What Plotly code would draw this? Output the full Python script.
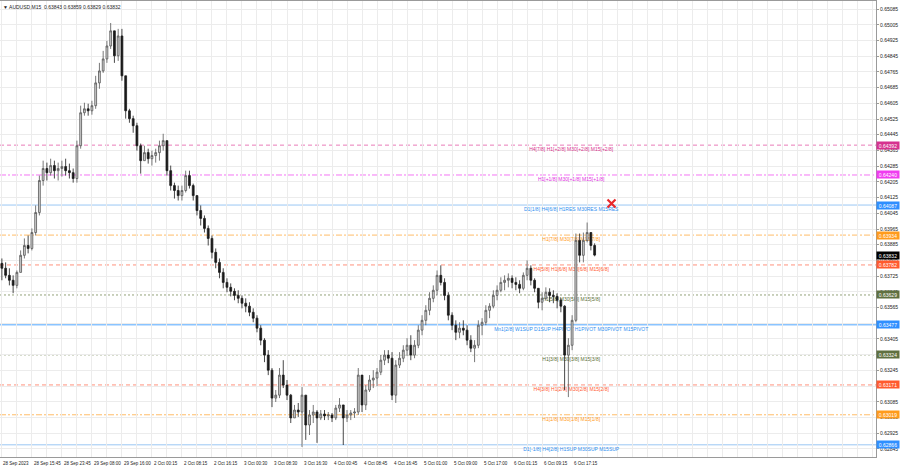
import plotly.graph_objects as go

# ---------------- data ----------------
first_open = 0.63790
closes = [0.63765, 0.63729, 0.63704, 0.63678, 0.63744, 0.63831, 0.63881, 0.63866, 0.63947, 0.64049,
          0.64212, 0.64273, 0.64252, 0.64288, 0.64262, 0.64273, 0.64283, 0.64262, 0.64252, 0.64222,
          0.64389, 0.64557, 0.64577, 0.64567, 0.64593, 0.64709, 0.64770, 0.64831, 0.64897, 0.64974,
          0.64847, 0.64948, 0.64745, 0.64567, 0.64527, 0.64491, 0.64389, 0.64313, 0.64354, 0.64323,
          0.64339, 0.64354, 0.64389, 0.64415, 0.64262, 0.64186, 0.64161, 0.64135, 0.64161, 0.64237,
          0.64186, 0.64135, 0.64059, 0.64019, 0.63968, 0.63917, 0.63846, 0.63795, 0.63744, 0.63693,
          0.63668, 0.63648, 0.63627, 0.63612, 0.63587, 0.63572, 0.63541, 0.63511, 0.63460, 0.63399,
          0.63323, 0.63246, 0.63104, 0.63119, 0.63221, 0.63170, 0.63119, 0.63003, 0.63043, 0.63033,
          0.63119, 0.62967, 0.63018, 0.63033, 0.63003, 0.63023, 0.63013, 0.63018, 0.63003, 0.63053,
          0.63069, 0.63003, 0.63018, 0.63028, 0.63033, 0.63221, 0.63069, 0.63145, 0.63196, 0.63206,
          0.63236, 0.63297, 0.63323, 0.63307, 0.63119, 0.63272, 0.63307, 0.63348, 0.63373, 0.63323,
          0.63373, 0.63450, 0.63500, 0.63551, 0.63612, 0.63653, 0.63729, 0.63693, 0.63627, 0.63526,
          0.63475, 0.63439, 0.63460, 0.63450, 0.63399, 0.63358, 0.63373, 0.63475, 0.63490, 0.63551,
          0.63572, 0.63627, 0.63653, 0.63693, 0.63704, 0.63714, 0.63693, 0.63683, 0.63663, 0.63729,
          0.63765, 0.63704, 0.63663, 0.63592, 0.63612, 0.63643, 0.63627, 0.63622, 0.63602, 0.63572,
          0.63323, 0.63373, 0.63500, 0.63907, 0.63831, 0.63907, 0.63947, 0.63881, 0.63832]
highs = [0.63815, 0.63795, 0.63765, 0.63729, 0.63754, 0.63856, 0.63917, 0.63932, 0.63968, 0.64085,
         0.64237, 0.64313, 0.64303, 0.64323, 0.64313, 0.64303, 0.64313, 0.64323, 0.64298, 0.64273,
         0.64415, 0.64593, 0.64608, 0.64603, 0.64618, 0.64745, 0.64811, 0.64872, 0.64923, 0.65014,
         0.64974, 0.64984, 0.64984, 0.64745, 0.64577, 0.64542, 0.64506, 0.64400, 0.64389, 0.64374,
         0.64364, 0.64374, 0.64415, 0.64450, 0.64415, 0.64288, 0.64201, 0.64186, 0.64186, 0.64262,
         0.64262, 0.64196, 0.64135, 0.64085, 0.64034, 0.63983, 0.63932, 0.63866, 0.63815, 0.63765,
         0.63714, 0.63688, 0.63663, 0.63653, 0.63627, 0.63612, 0.63592, 0.63561, 0.63526, 0.63475,
         0.63409, 0.63348, 0.63257, 0.63145, 0.63257, 0.63297, 0.63196, 0.63125, 0.63069, 0.63079,
         0.63160, 0.63119, 0.63043, 0.63069, 0.63043, 0.63043, 0.63043, 0.63033, 0.63028, 0.63069,
         0.63104, 0.63069, 0.63043, 0.63043, 0.63053, 0.63257, 0.63221, 0.63170, 0.63221, 0.63246,
         0.63257, 0.63323, 0.63348, 0.63348, 0.63338, 0.63297, 0.63338, 0.63373, 0.63409, 0.63424,
         0.63399, 0.63475, 0.63526, 0.63577, 0.63643, 0.63678, 0.63754, 0.63780, 0.63714, 0.63643,
         0.63541, 0.63500, 0.63490, 0.63500, 0.63475, 0.63424, 0.63399, 0.63500, 0.63511, 0.63577,
         0.63587, 0.63653, 0.63678, 0.63719, 0.63729, 0.63739, 0.63729, 0.63719, 0.63704, 0.63744,
         0.63805, 0.63780, 0.63714, 0.63663, 0.63643, 0.63668, 0.63663, 0.63653, 0.63638, 0.63612,
         0.63577, 0.63409, 0.63526, 0.63942, 0.63942, 0.63947, 0.63998, 0.63947, 0.63892]
lows = [0.63704, 0.63714, 0.63678, 0.63638, 0.63663, 0.63744, 0.63815, 0.63841, 0.63856, 0.63932,
        0.64034, 0.64186, 0.64212, 0.64237, 0.64222, 0.64212, 0.64232, 0.64237, 0.64222, 0.64201,
        0.64201, 0.64374, 0.64542, 0.64542, 0.64547, 0.64577, 0.64679, 0.64760, 0.64811, 0.64882,
        0.64811, 0.64821, 0.64720, 0.64527, 0.64506, 0.64455, 0.64364, 0.64247, 0.64313, 0.64298,
        0.64288, 0.64303, 0.64313, 0.64364, 0.64237, 0.64161, 0.64120, 0.64110, 0.64110, 0.64151,
        0.64171, 0.64110, 0.64034, 0.63983, 0.63947, 0.63881, 0.63815, 0.63765, 0.63714, 0.63663,
        0.63643, 0.63622, 0.63602, 0.63587, 0.63561, 0.63541, 0.63521, 0.63490, 0.63439, 0.63373,
        0.63287, 0.63221, 0.63058, 0.63084, 0.63104, 0.63155, 0.63094, 0.62977, 0.63003, 0.63008,
        0.62855, 0.62891, 0.62916, 0.62977, 0.62876, 0.62992, 0.62992, 0.62992, 0.62982, 0.62992,
        0.63033, 0.62865, 0.62982, 0.62992, 0.63003, 0.63018, 0.63033, 0.63043, 0.63135, 0.63155,
        0.63165, 0.63221, 0.63272, 0.63282, 0.63094, 0.63079, 0.63257, 0.63287, 0.63318, 0.63297,
        0.63307, 0.63358, 0.63424, 0.63475, 0.63526, 0.63592, 0.63627, 0.63678, 0.63602, 0.63500,
        0.63450, 0.63399, 0.63409, 0.63424, 0.63373, 0.63338, 0.63287, 0.63358, 0.63424, 0.63475,
        0.63511, 0.63561, 0.63602, 0.63643, 0.63653, 0.63668, 0.63663, 0.63653, 0.63638, 0.63653,
        0.63704, 0.63678, 0.63643, 0.63561, 0.63551, 0.63602, 0.63592, 0.63587, 0.63561, 0.63541,
        0.63145, 0.63109, 0.63348, 0.63490, 0.63795, 0.63795, 0.63897, 0.63856, 0.63826]

levels = [0.64392, 0.64240, 0.64087, 0.63934, 0.63782, 0.63629,
          0.63477, 0.63324, 0.63171, 0.63019, 0.62866]
level_text = ["H4[7/8] H1[+2/8] M30[+2/8] M15[+2/8]",
              "H1[+1/8] M30[+1/8] M15[+1/8]",
              "D1[1/8] H4[6/8] H1RES M30RES M15RES",
              "H1[7/8] M30[7/8] M15[7/8]",
              "H4[5/8] H1[6/8] M30[6/8] M15[6/8]",
              "H1[5/8] M30[5/8] M15[5/8]",
              "Mn1[2/8] W1SUP D1SUP H4PIVOT H1PIVOT M30PIVOT M15PIVOT",
              "H1[3/8] M30[3/8] M15[3/8]",
              "H4[3/8] H1[2/8] M30[2/8] M15[2/8]",
              "H1[1/8] M30[1/8] M15[1/8]",
              "D1[-1/8] H4[2/8] H1SUP M30SUP M15SUP"]
current_price = 0.63832
title_text = "▼ AUDUSD,M15  0.63843 0.63859 0.63829 0.63832"

price_ticks = [0.65085, 0.65005, 0.64925, 0.64845, 0.64765, 0.64685, 0.64605, 0.64525,
               0.64445, 0.64365, 0.64285, 0.64205, 0.64125, 0.64045, 0.63965, 0.63885,
               0.63805, 0.63725, 0.63645, 0.63565, 0.63485, 0.63405, 0.63325, 0.63245,
               0.63165, 0.63085, 0.63005, 0.62925, 0.62845]
date_labels = ["28 Sep 2023", "28 Sep 15:45", "28 Sep 23:45", "29 Sep 08:00", "29 Sep 16:00",
               "2 Oct 00:15", "2 Oct 08:15", "2 Oct 16:15", "3 Oct 00:30", "3 Oct 08:30",
               "3 Oct 16:30", "4 Oct 00:45", "4 Oct 08:45", "4 Oct 16:45", "5 Oct 01:00",
               "5 Oct 09:00", "5 Oct 17:00", "6 Oct 01:15", "6 Oct 09:15", "6 Oct 17:15"]
marker_x_bar = [652]
marker_price = [0.64095]

# ---------------- styles ----------------
line_colors = ["rgba(226,80,160,0.75)", "rgba(240,60,240,0.7)", "rgba(120,180,240,0.75)",
               "rgba(255,160,40,0.7)", "rgba(255,100,70,0.7)", "rgba(90,110,50,0.65)",
               "rgba(50,150,255,0.85)", "rgba(90,110,50,0.65)", "rgba(255,100,70,0.7)",
               "rgba(255,160,40,0.7)", "rgba(120,180,240,0.75)"]
line_dash = ["4px,3px", "6px,2px,2px,2px", "solid", "6px,2px,2px,2px", "4px,3px", "2px,2px",
             "solid", "2px,2px", "4px,3px", "6px,2px,2px,2px", "solid"]
text_colors = ["#d8348e", "#e22ee2", "#2f8ff0", "#ff9a1a", "#ff5a30", "#5b6e33",
               "#2f8ff0", "#5b6e33", "#ff5a30", "#ff9a1a", "#2f8ff0"]
tag_colors = ["#d6338f", "#f03cf0", "#2f8fff", "#ff9b1c", "#ff5a2e", "#5f7040",
              "#2f8fff", "#5f7040", "#ff5a2e", "#ff9b1c", "#2f8fff"]
FONT = "Liberation Sans"

n = len(closes)
opens = [first_open] + closes[:-1]
hi = [max(h, o, c) for h, o, c in zip(highs, opens, closes)]
lo = [min(l, o, c) for l, o, c in zip(lows, opens, closes)]
xs = [4 * k + 2 for k in range(n)]          # hourly candles on an M15 bar-index axis
date_bars = [1] + [34 + 32 * i for i in range(len(date_labels) - 1)]
label_bar = 609
x_max = 934

fig = go.Figure()
fig.add_trace(go.Candlestick(
    x=xs, open=opens, high=hi, low=lo, close=closes,
    increasing=dict(line=dict(color="#555555", width=0.8), fillcolor="#d4d4d4"),
    decreasing=dict(line=dict(color="#1a1a1a", width=0.8), fillcolor="#1a1a1a"),
    whiskerwidth=0, hoverinfo="skip", showlegend=False))

fig.add_trace(go.Scatter(x=marker_x_bar, y=marker_price, mode="markers",
                         marker=dict(symbol="x-thin", size=8, color="#e8282b",
                                     line=dict(width=2.2, color="#e8282b")),
                         hoverinfo="skip", showlegend=False))

shapes = []
for lv, col, dsh, tcol, txt in zip(levels, line_colors, line_dash, text_colors, level_text):
    shapes.append(dict(type="line", xref="paper", x0=0, x1=1, yref="y", y0=lv, y1=lv,
                       line=dict(color=col, width=1, dash=dsh), layer="between"))
    shapes.append(dict(type="line", xref="x", x0=label_bar - 40, x1=label_bar + 40,
                       yref="y", y0=lv, y1=lv, line=dict(width=0, color="rgba(0,0,0,0)"),
                       layer="between",
                       label=dict(text=txt, textposition="middle", yanchor="top", padding=1,
                                  font=dict(size=5, color=tcol, family=FONT))))

annotations = []
for lab, b in zip(date_labels, date_bars):
    annotations.append(dict(x=b, xref="x", y=0, yref="paper", text=lab, showarrow=False,
                            xanchor="left", yanchor="top", yshift=-2,
                            font=dict(size=4.5, color="#222", family=FONT)))
for lv, tc in zip(levels, tag_colors):
    annotations.append(dict(x=1, xref="paper", y=lv, yref="y", text=f"{lv:.5f}",
                            showarrow=False, xanchor="left", yanchor="middle", xshift=0,
                            bgcolor=tc, width=21, height=6, borderpad=0.5,
                            font=dict(size=5, color="white", family=FONT)))
annotations.append(dict(x=1, xref="paper", y=current_price, yref="y", text=f"{current_price:.5f}",
                        showarrow=False, xanchor="left", yanchor="middle",
                        bgcolor="#000000", width=21, height=6, borderpad=0.5,
                        font=dict(size=5, color="white", family=FONT)))
annotations.append(dict(x=0, xref="paper", y=1, yref="paper", text=title_text, showarrow=False,
                        xanchor="left", yanchor="top", xshift=1, yshift=-1,
                        font=dict(size=5, color="#222", family=FONT)))

fig.update_layout(
    width=900, height=468, margin=dict(l=0, r=24, t=1, b=11, autoexpand=False),
    paper_bgcolor="white", plot_bgcolor="white",
    shapes=shapes, annotations=annotations, showlegend=False,
    xaxis=dict(range=[0, x_max], rangeslider=dict(visible=False), showticklabels=False,
               tickvals=list(range(2, x_max, 16)), showgrid=True, gridcolor="#ececec",
               gridwidth=1, zeroline=False, showline=True, linecolor="#9a9a9a", mirror=True,
               ticks="", automargin=False),
    yaxis=dict(range=[0.62804, 0.65126], side="right", tickvals=price_ticks,
               ticktext=[f"{t:.5f}" for t in price_ticks], showgrid=True, gridcolor="#ececec",
               zeroline=False, showline=True, linecolor="#9a9a9a", mirror=True,
               ticks="outside", ticklen=2, tickcolor="#9a9a9a", automargin=False,
               tickfont=dict(size=5, color="#222", family=FONT)),
)

fig.write_html("out.html", config={"displayModeBar": False},
               post_script="document.body.style.margin='0';document.body.style.padding='0';")
